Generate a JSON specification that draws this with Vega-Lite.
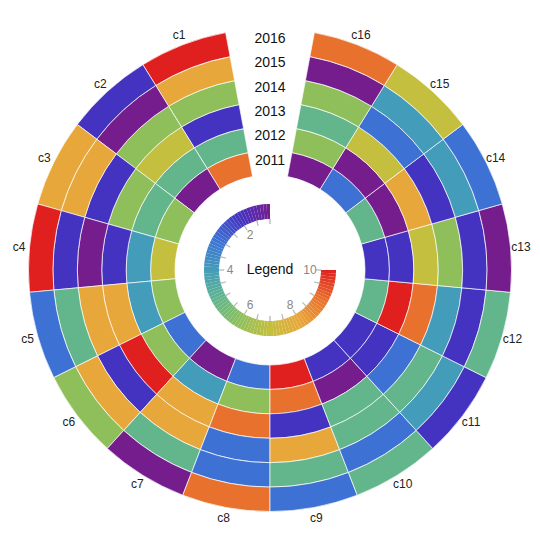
{
  "$schema": "https://vega.github.io/schema/vega-lite/v6.json",
  "width": 540,
  "height": 540,
  "padding": 0,
  "autosize": {"type": "none"},
  "background": "white",
  "config": {"view": {"stroke": null}, "font": "Liberation Sans"},
  "datasets": {
    "cells": [
      {"cat": "c1", "year": 2011, "value": 9}, {"cat": "c1", "year": 2012, "value": 5}, {"cat": "c1", "year": 2013, "value": 2},
      {"cat": "c1", "year": 2014, "value": 6}, {"cat": "c1", "year": 2015, "value": 8}, {"cat": "c1", "year": 2016, "value": 10},
      {"cat": "c2", "year": 2011, "value": 1}, {"cat": "c2", "year": 2012, "value": 5}, {"cat": "c2", "year": 2013, "value": 7},
      {"cat": "c2", "year": 2014, "value": 6}, {"cat": "c2", "year": 2015, "value": 1}, {"cat": "c2", "year": 2016, "value": 2},
      {"cat": "c3", "year": 2011, "value": 6}, {"cat": "c3", "year": 2012, "value": 5}, {"cat": "c3", "year": 2013, "value": 6},
      {"cat": "c3", "year": 2014, "value": 2}, {"cat": "c3", "year": 2015, "value": 8}, {"cat": "c3", "year": 2016, "value": 8},
      {"cat": "c4", "year": 2011, "value": 7}, {"cat": "c4", "year": 2012, "value": 4}, {"cat": "c4", "year": 2013, "value": 2},
      {"cat": "c4", "year": 2014, "value": 1}, {"cat": "c4", "year": 2015, "value": 2}, {"cat": "c4", "year": 2016, "value": 10},
      {"cat": "c5", "year": 2011, "value": 6}, {"cat": "c5", "year": 2012, "value": 4}, {"cat": "c5", "year": 2013, "value": 8},
      {"cat": "c5", "year": 2014, "value": 8}, {"cat": "c5", "year": 2015, "value": 5}, {"cat": "c5", "year": 2016, "value": 3},
      {"cat": "c6", "year": 2011, "value": 3}, {"cat": "c6", "year": 2012, "value": 6}, {"cat": "c6", "year": 2013, "value": 10},
      {"cat": "c6", "year": 2014, "value": 2}, {"cat": "c6", "year": 2015, "value": 8}, {"cat": "c6", "year": 2016, "value": 6},
      {"cat": "c7", "year": 2011, "value": 1}, {"cat": "c7", "year": 2012, "value": 4}, {"cat": "c7", "year": 2013, "value": 8},
      {"cat": "c7", "year": 2014, "value": 8}, {"cat": "c7", "year": 2015, "value": 5}, {"cat": "c7", "year": 2016, "value": 1},
      {"cat": "c8", "year": 2011, "value": 3}, {"cat": "c8", "year": 2012, "value": 6}, {"cat": "c8", "year": 2013, "value": 9},
      {"cat": "c8", "year": 2014, "value": 3}, {"cat": "c8", "year": 2015, "value": 3}, {"cat": "c8", "year": 2016, "value": 9},
      {"cat": "c9", "year": 2011, "value": 10}, {"cat": "c9", "year": 2012, "value": 9}, {"cat": "c9", "year": 2013, "value": 2},
      {"cat": "c9", "year": 2014, "value": 8}, {"cat": "c9", "year": 2015, "value": 5}, {"cat": "c9", "year": 2016, "value": 3},
      {"cat": "c10", "year": 2011, "value": 2}, {"cat": "c10", "year": 2012, "value": 1}, {"cat": "c10", "year": 2013, "value": 5},
      {"cat": "c10", "year": 2014, "value": 5}, {"cat": "c10", "year": 2015, "value": 3}, {"cat": "c10", "year": 2016, "value": 5},
      {"cat": "c11", "year": 2011, "value": 2}, {"cat": "c11", "year": 2012, "value": 2}, {"cat": "c11", "year": 2013, "value": 3},
      {"cat": "c11", "year": 2014, "value": 5}, {"cat": "c11", "year": 2015, "value": 4}, {"cat": "c11", "year": 2016, "value": 2},
      {"cat": "c12", "year": 2011, "value": 5}, {"cat": "c12", "year": 2012, "value": 10}, {"cat": "c12", "year": 2013, "value": 9},
      {"cat": "c12", "year": 2014, "value": 4}, {"cat": "c12", "year": 2015, "value": 2}, {"cat": "c12", "year": 2016, "value": 5},
      {"cat": "c13", "year": 2011, "value": 2}, {"cat": "c13", "year": 2012, "value": 2}, {"cat": "c13", "year": 2013, "value": 7},
      {"cat": "c13", "year": 2014, "value": 6}, {"cat": "c13", "year": 2015, "value": 2}, {"cat": "c13", "year": 2016, "value": 1},
      {"cat": "c14", "year": 2011, "value": 5}, {"cat": "c14", "year": 2012, "value": 1}, {"cat": "c14", "year": 2013, "value": 8},
      {"cat": "c14", "year": 2014, "value": 2}, {"cat": "c14", "year": 2015, "value": 4}, {"cat": "c14", "year": 2016, "value": 3},
      {"cat": "c15", "year": 2011, "value": 3}, {"cat": "c15", "year": 2012, "value": 1}, {"cat": "c15", "year": 2013, "value": 7},
      {"cat": "c15", "year": 2014, "value": 3}, {"cat": "c15", "year": 2015, "value": 4}, {"cat": "c15", "year": 2016, "value": 7},
      {"cat": "c16", "year": 2011, "value": 1}, {"cat": "c16", "year": 2012, "value": 6}, {"cat": "c16", "year": 2013, "value": 5},
      {"cat": "c16", "year": 2014, "value": 6}, {"cat": "c16", "year": 2015, "value": 1}, {"cat": "c16", "year": 2016, "value": 9}
    ],
    "ramp": [
      {"v": 1.0}, {"v": 1.1}, {"v": 1.2}, {"v": 1.3}, {"v": 1.4}, {"v": 1.5}, {"v": 1.6}, {"v": 1.7}, {"v": 1.8}, {"v": 1.9},
      {"v": 2.0}, {"v": 2.1}, {"v": 2.2}, {"v": 2.3}, {"v": 2.4}, {"v": 2.5}, {"v": 2.6}, {"v": 2.7}, {"v": 2.8}, {"v": 2.9},
      {"v": 3.0}, {"v": 3.1}, {"v": 3.2}, {"v": 3.3}, {"v": 3.4}, {"v": 3.5}, {"v": 3.6}, {"v": 3.7}, {"v": 3.8}, {"v": 3.9},
      {"v": 4.0}, {"v": 4.1}, {"v": 4.2}, {"v": 4.3}, {"v": 4.4}, {"v": 4.5}, {"v": 4.6}, {"v": 4.7}, {"v": 4.8}, {"v": 4.9},
      {"v": 5.0}, {"v": 5.1}, {"v": 5.2}, {"v": 5.3}, {"v": 5.4}, {"v": 5.5}, {"v": 5.6}, {"v": 5.7}, {"v": 5.8}, {"v": 5.9},
      {"v": 6.0}, {"v": 6.1}, {"v": 6.2}, {"v": 6.3}, {"v": 6.4}, {"v": 6.5}, {"v": 6.6}, {"v": 6.7}, {"v": 6.8}, {"v": 6.9},
      {"v": 7.0}, {"v": 7.1}, {"v": 7.2}, {"v": 7.3}, {"v": 7.4}, {"v": 7.5}, {"v": 7.6}, {"v": 7.7}, {"v": 7.8}, {"v": 7.9},
      {"v": 8.0}, {"v": 8.1}, {"v": 8.2}, {"v": 8.3}, {"v": 8.4}, {"v": 8.5}, {"v": 8.6}, {"v": 8.7}, {"v": 8.8}, {"v": 8.9},
      {"v": 9.0}, {"v": 9.1}, {"v": 9.2}, {"v": 9.3}, {"v": 9.4}, {"v": 9.5}, {"v": 9.6}, {"v": 9.7}, {"v": 9.8}, {"v": 9.9}
    ],
    "ticks": [
      {"t": 1}, {"t": 1.5}, {"t": 2}, {"t": 2.5}, {"t": 3}, {"t": 3.5}, {"t": 4}, {"t": 4.5}, {"t": 5}, {"t": 5.5},
      {"t": 6}, {"t": 6.5}, {"t": 7}, {"t": 7.5}, {"t": 8}, {"t": 8.5}, {"t": 9}, {"t": 9.5}, {"t": 10}
    ]
  },
  "layer": [
    {
      "data": {"name": "cells"},
      "transform": [
        {"calculate": "toNumber(substring(datum.cat, 1))", "as": "k"},
        {"calculate": "datum.k + 1", "as": "k2"},
        {"calculate": "datum.year - 2011", "as": "r"},
        {"calculate": "datum.r + 1", "as": "r2"}
      ],
      "mark": {"type": "arc", "stroke": "white", "strokeWidth": 0.8, "strokeOpacity": 0.85},
      "encoding": {
        "theta": {"field": "k", "type": "quantitative", "stack": null, "scale": {"domain": [0.5, 17.5], "range": [6.2832, 0]}},
        "theta2": {"field": "k2"},
        "radius": {"field": "r", "type": "quantitative", "scale": {"type": "linear", "zero": false, "domain": [0, 6], "range": [95, 241.5]}},
        "radius2": {"field": "r2"},
        "color": {
          "field": "value", "type": "quantitative", "legend": null,
          "scale": {
            "domain": [1, 2, 3, 4, 5, 6, 7, 8, 9, 10],
            "range": ["#761d8e", "#4333c0", "#3d72d4", "#439cba", "#63b68c", "#8fbf5b", "#c4bf3f", "#e8a73a", "#e8722d", "#e0201f"],
            "interpolate": "rgb"
          }
        }
      }
    },
    {
      "data": {"name": "cells"},
      "transform": [
        {"filter": "datum.year == 2016"},
        {"calculate": "toNumber(substring(datum.cat, 1)) + 0.5", "as": "km"}
      ],
      "mark": {"type": "text", "radius": 252, "fontSize": 12, "color": "#222", "baseline": "middle", "align": "center"},
      "encoding": {
        "theta": {"field": "km", "type": "quantitative", "stack": null, "scale": {"domain": [0.5, 17.5], "range": [6.2832, 0]}},
        "text": {"field": "cat"}
      }
    },
    {
      "data": {"name": "cells"},
      "transform": [
        {"filter": "datum.cat == 'c1'"},
        {"calculate": "datum.year - 2011 + 0.5", "as": "rm"}
      ],
      "mark": {"type": "text", "fontSize": 14, "color": "#111", "baseline": "middle", "align": "center", "dy": -2},
      "encoding": {
        "theta": {"datum": 0, "type": "quantitative", "scale": {"domain": [0, 1], "range": [0, 6.2832]}},
        "radius": {"field": "rm", "type": "quantitative", "scale": {"type": "linear", "zero": false, "domain": [0, 6], "range": [95, 241.5]}},
        "text": {"field": "year", "type": "nominal"}
      }
    },
    {
      "data": {"name": "ramp"},
      "transform": [
        {"calculate": "datum.v + 0.1", "as": "v2"},
        {"calculate": "datum.v + 0.05", "as": "value"}
      ],
      "mark": {"type": "arc", "innerRadius": 51, "outerRadius": 66},
      "encoding": {
        "theta": {"field": "v", "type": "quantitative", "stack": null, "scale": {"domain": [1, 10], "range": [6.2832, 1.5708]}},
        "theta2": {"field": "v2"},
        "color": {"field": "value", "type": "quantitative", "legend": null}
      }
    },
    {
      "data": {"name": "ticks"},
      "transform": [
        {"calculate": "datum.t - 0.012", "as": "ta"},
        {"calculate": "datum.t + 0.012", "as": "tb"}
      ],
      "mark": {"type": "arc", "innerRadius": 46, "outerRadius": 51, "fill": "#aaa", "stroke": "#aaa", "strokeWidth": 0.4},
      "encoding": {
        "theta": {"field": "ta", "type": "quantitative", "stack": null, "scale": {"domain": [1, 10], "range": [6.2832, 1.5708]}},
        "theta2": {"field": "tb"}
      }
    },
    {
      "data": {"name": "ticks"},
      "transform": [{"filter": "datum.t % 2 == 0"}],
      "mark": {"type": "text", "radius": 40, "fontSize": 12, "color": "#888", "baseline": "middle", "align": "center"},
      "encoding": {
        "theta": {"field": "t", "type": "quantitative", "stack": null, "scale": {"domain": [1, 10], "range": [6.2832, 1.5708]}},
        "text": {"field": "t", "type": "nominal"}
      }
    },
    {
      "data": {"values": [{"label": "Legend"}]},
      "mark": {"type": "text", "fontSize": 14, "color": "#111", "baseline": "middle", "align": "center"},
      "encoding": {"text": {"field": "label"}}
    }
  ],
  "resolve": {"scale": {"theta": "independent", "radius": "independent"}}
}
